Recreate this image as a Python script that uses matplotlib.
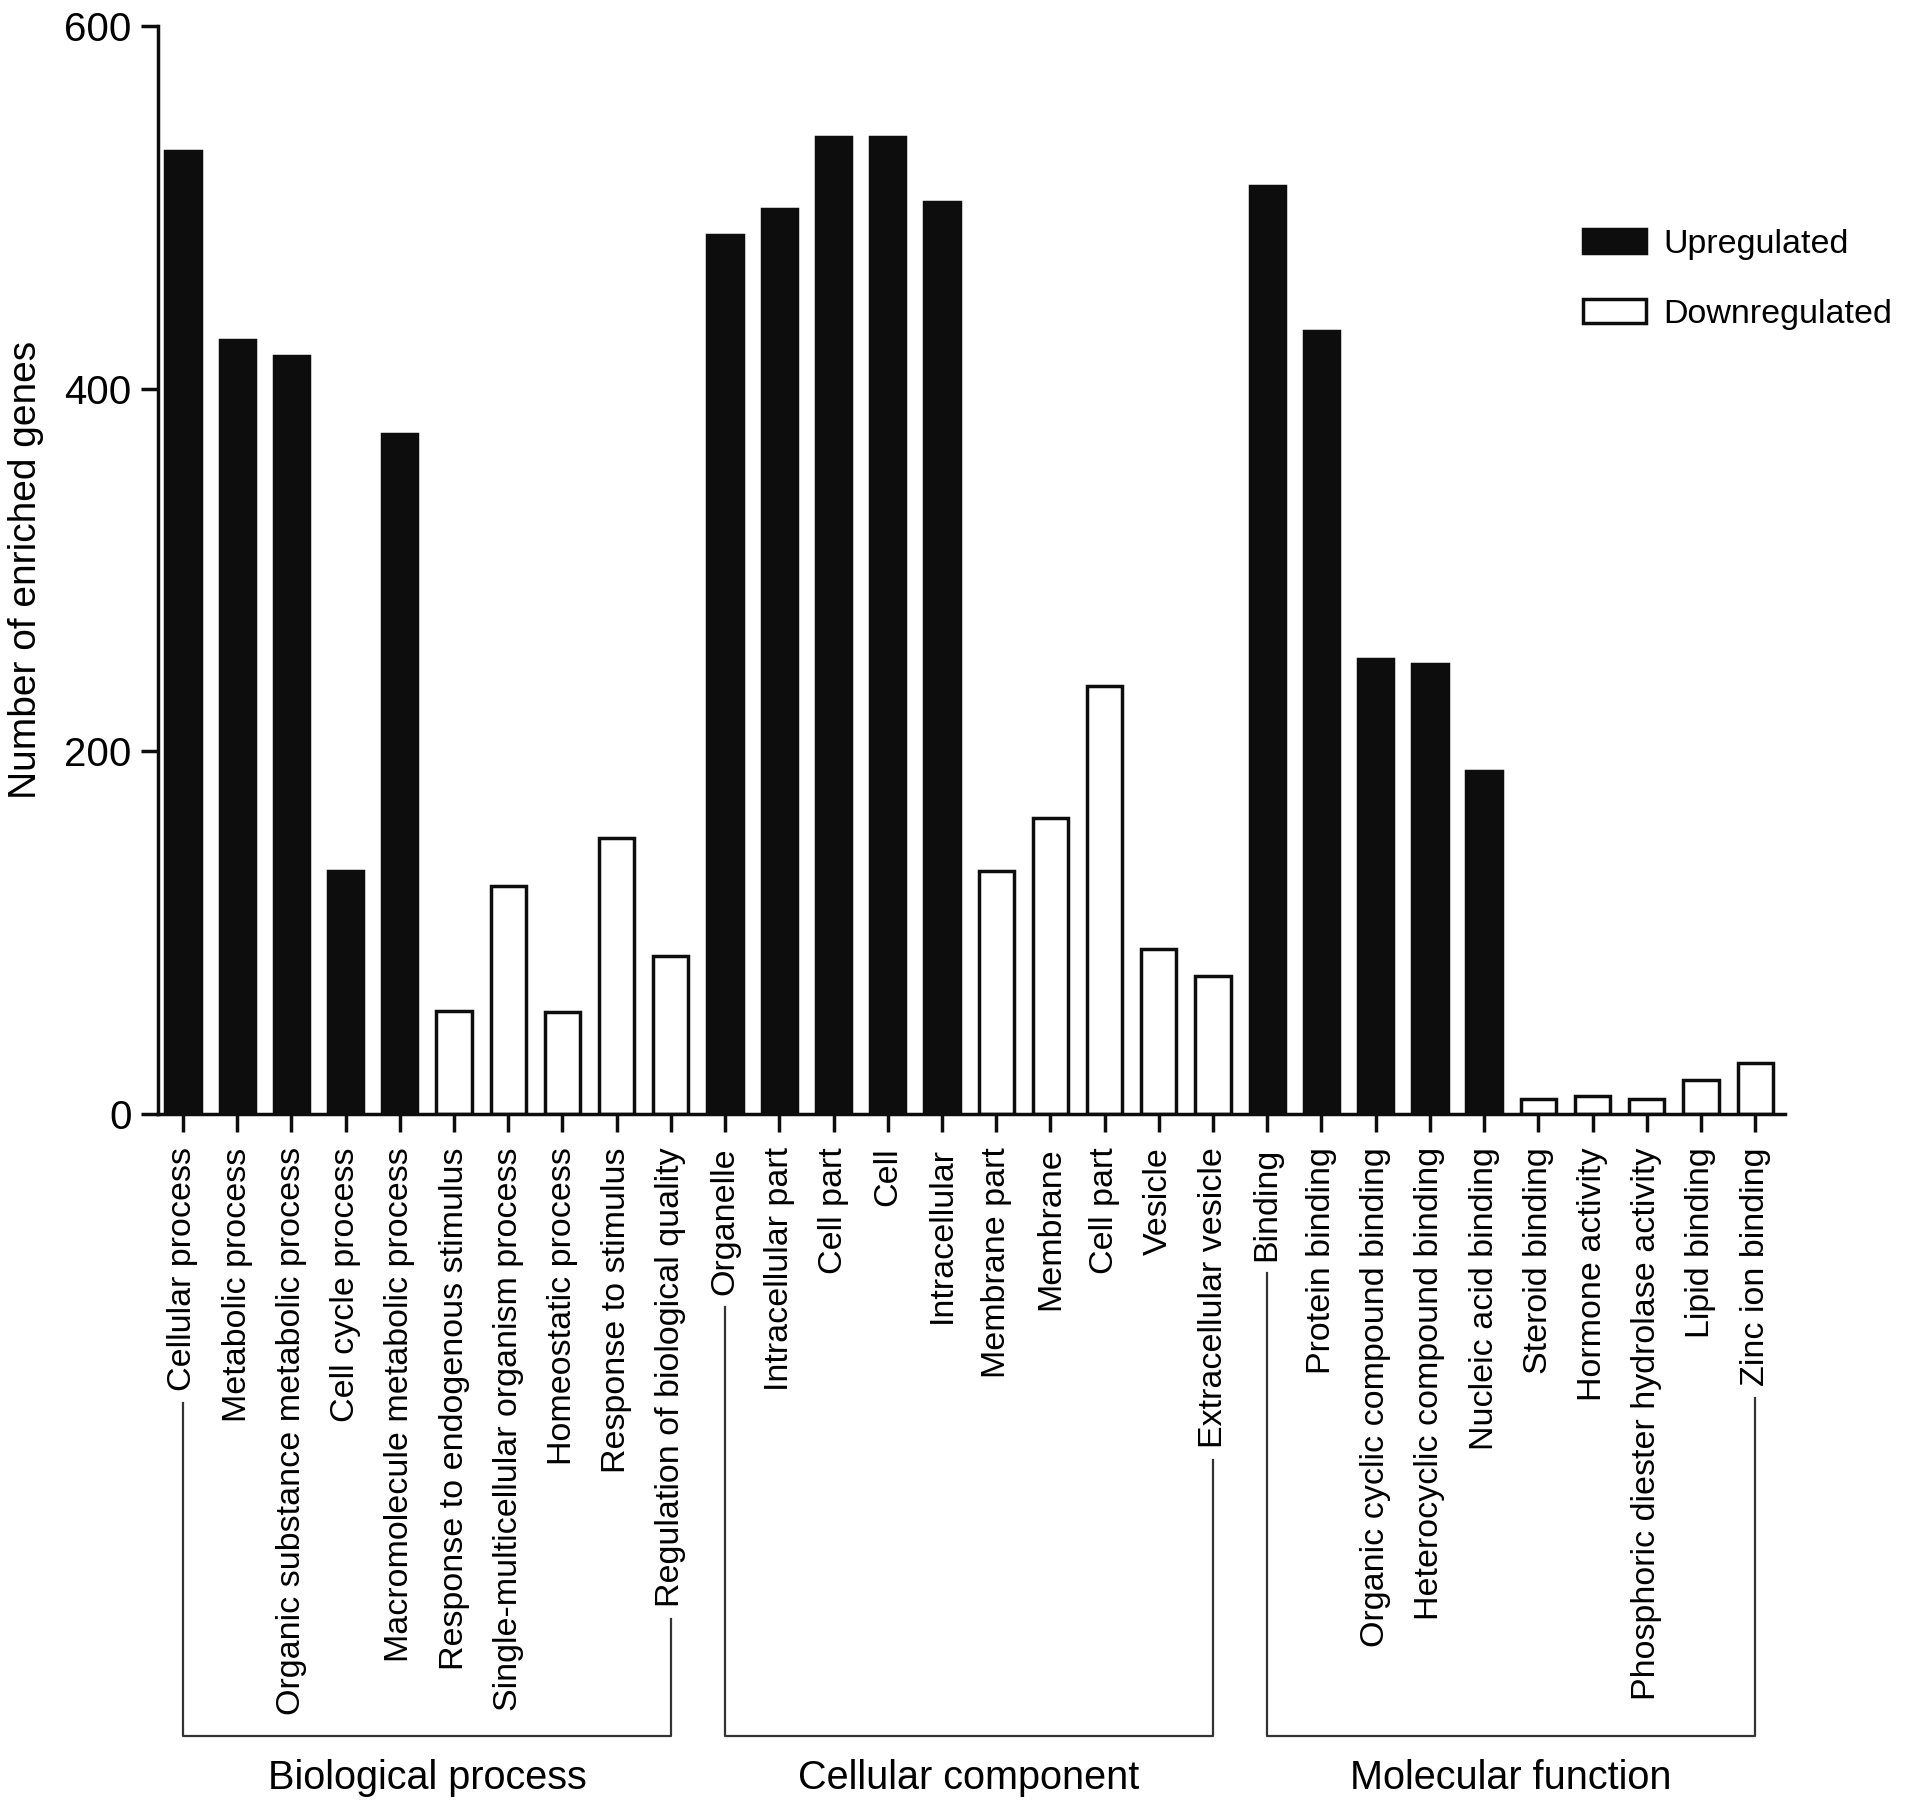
import matplotlib
matplotlib.use('Agg')
import matplotlib.pyplot as plt
from matplotlib.lines import Line2D
from matplotlib.patches import Patch

terms = [
    'Cellular process', 'Metabolic process', 'Organic substance metabolic process',
    'Cell cycle process', 'Macromolecule metabolic process',
    'Response to endogenous stimulus', 'Single-multicellular organism process',
    'Homeostatic process', 'Response to stimulus', 'Regulation of biological quality',
    'Organelle', 'Intracellular part', 'Cell part', 'Cell', 'Intracellular',
    'Membrane part', 'Membrane', 'Cell part', 'Vesicle', 'Extracellular vesicle',
    'Binding', 'Protein binding', 'Organic cyclic compound binding',
    'Heterocyclic compound binding', 'Nucleic acid binding', 'Steroid binding',
    'Hormone activity', 'Phosphoric diester hydrolase activity', 'Lipid binding',
    'Zinc ion binding',
]
counts = [531, 427, 418, 134, 375, 57, 126, 56, 152, 87,
          485, 499, 539, 539, 503, 134, 163, 236, 91, 76,
          512, 432, 251, 248, 189, 8, 10, 8, 19, 28]
regulation = ['Up', 'Up', 'Up', 'Up', 'Up', 'Down', 'Down', 'Down', 'Down', 'Down',
              'Up', 'Up', 'Up', 'Up', 'Up', 'Down', 'Down', 'Down', 'Down', 'Down',
              'Up', 'Up', 'Up', 'Up', 'Up', 'Down', 'Down', 'Down', 'Down', 'Down']
groups = ['Biological process', 'Cellular component', 'Molecular function']
group_sizes = [10, 10, 10]
yticks = [0, 200, 400, 600]

plt.rcParams['font.family'] = ['Liberation Sans', 'DejaVu Sans']
BLACK = '#0d0d0d'
W, H = 1913, 1813
AX_L, AX_R, AX_B, AX_T = 158, 1785, 1114, 26

fig = plt.figure(figsize=(W / 100, H / 100), dpi=100)
ax = fig.add_axes([AX_L / W, 1 - AX_B / H, (AX_R - AX_L) / W, (AX_B - AX_T) / H])

x = list(range(len(terms)))
colors = [BLACK if r == 'Up' else 'white' for r in regulation]
ax.bar(x, counts, width=0.65, color=colors, edgecolor=BLACK, linewidth=2.5)

ax.set_xlim(-0.46, len(terms) - 0.45)
ax.set_ylim(0, 600)
ax.set_yticks(yticks)
ax.set_yticklabels([str(v) for v in yticks], fontsize=29)
ax.set_xticks(x)
ax.set_xticklabels(terms, rotation=90, fontsize=24.5, ha='center', va='top')
ax.tick_params(axis='x', length=13, width=2.5, pad=11, color=BLACK)
ax.tick_params(axis='y', length=12, width=2.5, pad=7, color=BLACK)
for s in ['top', 'right']:
    ax.spines[s].set_visible(False)
for s in ['left', 'bottom']:
    ax.spines[s].set_linewidth(2.5)
    ax.spines[s].set_color(BLACK)

ax.set_ylabel('Number of enriched genes', fontsize=28)
ax.yaxis.set_label_coords((44 - AX_L) / (AX_R - AX_L), 0.5)

handles = [Patch(facecolor=BLACK, edgecolor=BLACK, linewidth=2.5, label='Upregulated'),
           Patch(facecolor='white', edgecolor=BLACK, linewidth=2.5, label='Downregulated')]
fig.legend(handles=handles, loc='upper left', bbox_to_anchor=(1583 / W, 1 - 229 / H),
           frameon=False, fontsize=24.5, handlelength=1.85, handleheight=0.72,
           handletextpad=0.5, labelspacing=1.15, borderpad=0, borderaxespad=0)

fig.canvas.draw()
renderer = fig.canvas.get_renderer()
labels = ax.get_xticklabels()
bracket_y = 1 - 1736 / H
label_y = 1 - 1778 / H
start = 0
for name, n in zip(groups, group_sizes):
    i0, i1 = start, start + n - 1
    xs = []
    ys = []
    for i in (i0, i1):
        bb = labels[i].get_window_extent(renderer)
        xd = ax.transData.transform((i, 0))[0]
        xs.append(xd / W)
        ys.append((bb.y0 - 12) / H)
    fig.add_artist(Line2D([xs[0], xs[0], xs[1], xs[1]],
                          [ys[0], bracket_y, bracket_y, ys[1]],
                          transform=fig.transFigure, color='#333333', linewidth=1.6))
    fig.text((xs[0] + xs[1]) / 2, label_y, name, ha='center', va='center', fontsize=28.5)
    start += n

fig.savefig('out.png', dpi=100)
